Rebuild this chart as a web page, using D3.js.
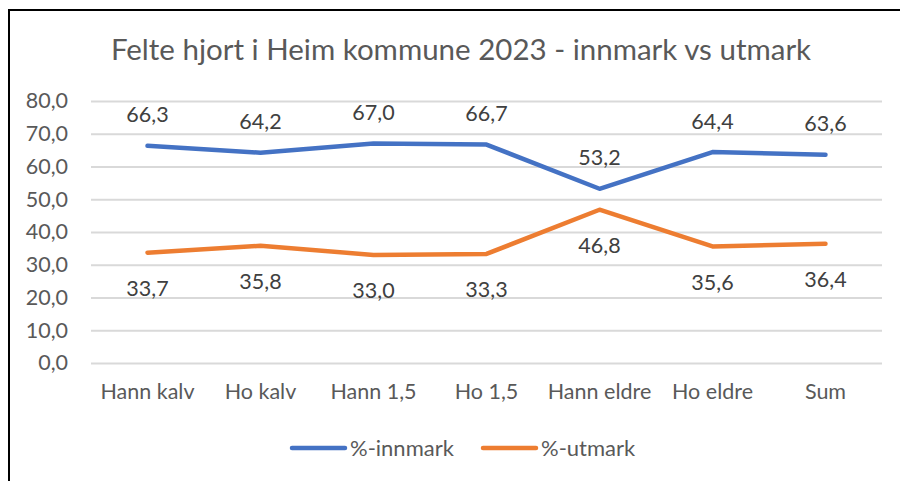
<!DOCTYPE html>
<html><head><meta charset="utf-8">
<script src="https://cdn.jsdelivr.net/npm/d3@7"></script>
<style>body{margin:0;background:#fff}svg{display:block}</style>
</head><body><svg id="c" width="900" height="481"></svg>
<script>
const title = "Felte hjort i Heim kommune 2023 - innmark vs utmark";
const categories = ["Hann kalv","Ho kalv","Hann 1,5","Ho 1,5","Hann eldre","Ho eldre","Sum"];
const innmark = [66.3,64.2,67.0,66.7,53.2,64.4,63.6];
const utmark = [33.7,35.8,33.0,33.3,46.8,35.6,36.4];
const yTicks = [0,10,20,30,40,50,60,70,80];
const seriesNames = ["%-innmark","%-utmark"];
const colors = ["#4472C4","#ED7D31"];

const svg = d3.select("#c");
const font = "Lato, 'Open Sans', sans-serif";
const W=900,H=481;
svg.append("rect").attr("width",W).attr("height",H).attr("fill","#fff");
svg.append("path").attr("d","M9,481V10H900").attr("fill","none").attr("stroke","#000").attr("stroke-width",2);

const x = d3.scaleBand().domain(categories).range([91,882]);
const y = d3.scaleLinear().domain([0,80]).range([363,101]);

svg.append("text").attr("x",461).attr("y",60).attr("text-anchor","middle")
  .attr("font-family",font).attr("font-size",29.5).attr("fill","#595959").text(title);

const yAxis = svg.append("g").attr("transform","translate(91,0)")
  .call(d3.axisLeft(y).tickValues(yTicks).tickSize(-791).tickPadding(23)
    .tickFormat(d=>d3.format(".1f")(d).replace(".",",")));
yAxis.select(".domain").remove();
yAxis.selectAll("line").attr("stroke","#D9D9D9").attr("stroke-width",2);
yAxis.selectAll("text").attr("font-family",font).attr("font-size",21.5).attr("fill","#595959");

const xAxis = svg.append("g").attr("transform","translate(0,363)")
  .call(d3.axisBottom(x).tickSize(0).tickPadding(21));
xAxis.select(".domain").remove();
xAxis.selectAll("text").attr("font-family",font).attr("font-size",21.5).attr("fill","#595959");

const line = d3.line().x((d,i)=>x(categories[i])+x.bandwidth()/2).y(d=>y(d));
[innmark,utmark].forEach((s,k)=>{
  svg.append("path").datum(s).attr("d",line).attr("fill","none")
    .attr("stroke",colors[k]).attr("stroke-width",4.5)
    .attr("stroke-linecap","round").attr("stroke-linejoin","round");
});
const fmt = v=>d3.format(".1f")(v).replace(".",",");
svg.append("g").selectAll("text").data(innmark).join("text")
  .attr("x",(d,i)=>x(categories[i])+x.bandwidth()/2).attr("y",d=>y(d)-31)
  .attr("dy","0.35em").attr("text-anchor","middle")
  .attr("font-family",font).attr("font-size",21.5).attr("fill","#404040").text(fmt);
svg.append("g").selectAll("text").data(utmark).join("text")
  .attr("x",(d,i)=>x(categories[i])+x.bandwidth()/2).attr("y",d=>y(d)+36)
  .attr("dy","0.35em").attr("text-anchor","middle")
  .attr("font-family",font).attr("font-size",21.5).attr("fill","#404040").text(fmt);

const legX=[292,483];
seriesNames.forEach((n,k)=>{
  const g=svg.append("g");
  g.append("line").attr("x1",legX[k]).attr("x2",legX[k]+53).attr("y1",448).attr("y2",448)
    .attr("stroke",colors[k]).attr("stroke-width",4.5).attr("stroke-linecap","round");
  g.append("text").attr("x",legX[k]+58).attr("y",448).attr("dy","0.35em")
    .attr("font-family",font).attr("font-size",22).attr("fill","#595959").text(n);
});
</script></body></html>
